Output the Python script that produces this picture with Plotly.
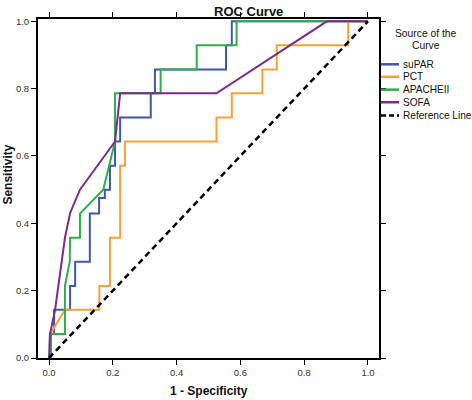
import plotly.graph_objects as go

# ---------------- data ----------------
series_names = ["suPAR", "PCT", "APACHEII", "SOFA"]
series_colors = ["#3D59A9", "#F6A234", "#2FAE4B", "#7B2B8B"]

supar_fpr = [0, 0.006, 0.006, 0.016, 0.016, 0.066, 0.066, 0.082, 0.082, 0.128, 0.128, 0.157, 0.157,
             0.175, 0.175, 0.191, 0.191, 0.207, 0.207, 0.223, 0.223, 0.319, 0.319, 0.332, 0.332,
             0.555, 0.555, 0.573, 0.573, 1.0]
supar_tpr = [0, 0, 0.071, 0.071, 0.143, 0.143, 0.214, 0.214, 0.286, 0.286, 0.429, 0.429, 0.475,
             0.475, 0.5, 0.5, 0.571, 0.571, 0.643, 0.643, 0.714, 0.714, 0.786, 0.786, 0.857,
             0.857, 0.929, 0.929, 1.0, 1.0]

pct_fpr = [0, 0.004, 0.004, 0.05, 0.158, 0.158, 0.191, 0.191, 0.223, 0.223, 0.238, 0.238, 0.525,
           0.525, 0.573, 0.573, 0.669, 0.669, 0.714, 0.714, 0.938, 0.938, 1.0]
pct_tpr = [0, 0, 0.071, 0.143, 0.143, 0.214, 0.214, 0.357, 0.357, 0.571, 0.571, 0.643, 0.643,
           0.714, 0.714, 0.786, 0.786, 0.857, 0.857, 0.929, 0.929, 1.0, 1.0]

apache_fpr = [0, 0.003, 0.003, 0.05, 0.05, 0.065, 0.066, 0.097, 0.097, 0.17, 0.207, 0.207, 0.35,
              0.35, 0.463, 0.463, 0.588, 0.588, 1.0]
apache_tpr = [0, 0, 0.071, 0.071, 0.214, 0.286, 0.357, 0.357, 0.429, 0.5, 0.643, 0.786, 0.786,
              0.857, 0.857, 0.929, 0.929, 1.0, 1.0]

sofa_fpr = [0, 0.003, 0.019, 0.05, 0.066, 0.097, 0.207, 0.223, 0.525, 0.871, 1.0]
sofa_tpr = [0, 0.071, 0.143, 0.357, 0.43, 0.5, 0.643, 0.786, 0.786, 1.0, 1.0]

ref_fpr = [0, 1]
ref_tpr = [0, 1]

tick_vals = [0, 0.2, 0.4, 0.6, 0.8, 1.0]

# ---------------- figure ----------------
FONT = "Liberation Sans, Arial, sans-serif"
W, H = 472, 400
# plot area in page pixels
L, R, T, B = 38, 379, 16, 358


def px(xp):
    return (xp - L) / (R - L)


def py(yp):
    return (B - yp) / (B - T)


fig = go.Figure()
data = [(supar_fpr, supar_tpr), (pct_fpr, pct_tpr), (apache_fpr, apache_tpr), (sofa_fpr, sofa_tpr)]
for (xs, ys), name, col in zip(data, series_names, series_colors):
    fig.add_trace(go.Scatter(x=xs, y=ys, mode="lines", name=name,
                             line=dict(color=col, width=2), showlegend=False))
fig.add_trace(go.Scatter(x=ref_fpr, y=ref_tpr, mode="lines", name="Reference Line",
                         line=dict(color="black", width=2.5, dash="6px,4px"), showlegend=False))

axis_common = dict(showline=True, mirror="ticks", linecolor="black", linewidth=2,
                   ticks="outside", ticklen=5, tickwidth=1, tickcolor="black",
                   showgrid=False, zeroline=False, tickvals=tick_vals, tickformat=".1f",
                   tickfont=dict(family=FONT, size=9.5, color="#333333"))

fig.update_layout(
    width=W, height=H,
    margin=dict(l=L, r=W - R, t=T, b=H - B, pad=0),
    paper_bgcolor="white", plot_bgcolor="white",
    xaxis=dict(range=[-0.0345, 1.0345], **axis_common),
    yaxis=dict(range=[0, 1.0068], **axis_common),
    showlegend=False,
)

annotations = [
    dict(text="<b>ROC Curve</b>", x=px(248), y=py(8), font=dict(size=13)),
    dict(text="<b>1 - Specificity</b>", x=px(209), y=py(391.5), font=dict(size=12)),
    dict(text="<b>Sensitivity</b>", x=px(8), y=py(173), font=dict(size=12), textangle=-90),
    dict(text="Source of the", x=px(425.7), y=py(30.7), font=dict(size=10.3)),
    dict(text="Curve", x=px(425.7), y=py(42.3), font=dict(size=10.3)),
]

legend_rows = [61.7, 74.3, 87.3, 100.0, 113.3]
legend_labels = series_names + ["Reference Line"]
legend_colors = series_colors + ["black"]
shapes = []
for yrow, lab, col in zip(legend_rows, legend_labels, legend_colors):
    annotations.append(dict(text=lab, x=px(400.5), y=py(yrow), xanchor="left",
                            font=dict(size=10.1)))
    shapes.append(dict(type="line", xref="paper", yref="paper",
                       x0=px(381), x1=px(399), y0=py(yrow), y1=py(yrow),
                       line=dict(color=col, width=2.5,
                                 dash="5px,3px" if lab == "Reference Line" else "solid")))

for a in annotations:
    a.setdefault("xanchor", "center")
    a["xref"] = "paper"
    a["yref"] = "paper"
    a["yanchor"] = "middle"
    a["showarrow"] = False
    a["font"] = dict(family=FONT, color="#111111", **a["font"])

fig.update_layout(annotations=annotations, shapes=shapes)

fig.write_html(
    "out.html",
    config={"displayModeBar": False},
    post_script="document.body.style.margin='0px';document.body.style.overflow='hidden';"
                "document.documentElement.style.overflow='hidden';",
)
